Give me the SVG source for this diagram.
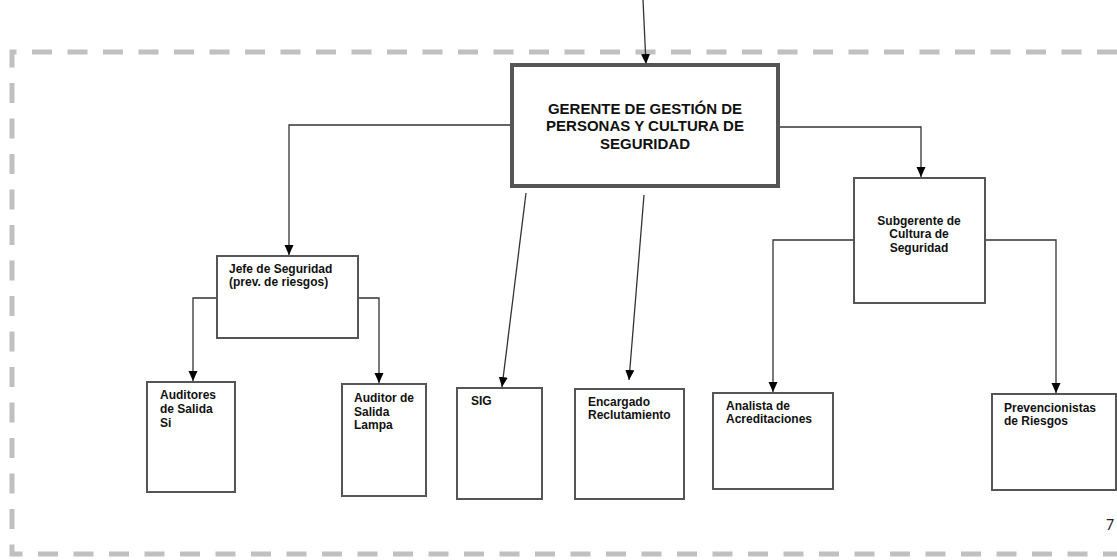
<svg xmlns="http://www.w3.org/2000/svg" width="1117" height="560" viewBox="0 0 1117 560">
<style>
.frame{fill:none;stroke:#c0c0c0;stroke-width:5;stroke-dasharray:20 15.5}
.box{fill:#fff;stroke:#555;stroke-width:2}
.main{fill:#fff;stroke:#555;stroke-width:4}
.c{fill:none;stroke:#333;stroke-width:1.3}
.t{font-family:"Liberation Sans",Arial,sans-serif;font-weight:bold;font-size:12px;fill:#111}
.tm{font-family:"Liberation Sans",Arial,sans-serif;font-weight:bold;font-size:15px;fill:#111}
.pg{font-family:"Carlito","Liberation Sans",sans-serif;font-size:16px;fill:#222}
</style>
<defs>
<marker id="ah" markerUnits="userSpaceOnUse" markerWidth="11" markerHeight="10" refX="10" refY="4.5" orient="auto">
<path d="M0,0 L10,4.5 L0,9 z" fill="#000"/>
</marker>
</defs>
<rect width="1117" height="560" fill="#fff"/>
<path class="frame" d="M1117,52 H12 V554 H1117"/>
<g id="connectors">
<path class="c" d="M643,0 L646,64" marker-end="url(#ah)"/>
<path class="c" d="M512,125 H289 V255" marker-end="url(#ah)"/>
<path class="c" d="M778,127 H921 V177" marker-end="url(#ah)"/>
<path class="c" d="M526,193 L502,387" marker-end="url(#ah)"/>
<path class="c" d="M644,195 L629,380" marker-end="url(#ah)"/>
<path class="c" d="M217,298 H193 V381" marker-end="url(#ah)"/>
<path class="c" d="M358,298 H379 V383" marker-end="url(#ah)"/>
<path class="c" d="M854,240 H773 V392" marker-end="url(#ah)"/>
<path class="c" d="M985,240 H1056 V393" marker-end="url(#ah)"/>
</g>
<g id="gerente">
<rect class="main" x="512" y="65" width="266" height="121"/>
<text class="tm" text-anchor="middle"><tspan x="645" y="114">GERENTE DE GESTIÓN DE</tspan><tspan x="645" y="131">PERSONAS Y CULTURA DE</tspan><tspan x="645" y="149">SEGURIDAD</tspan></text>
</g>
<g id="jefe">
<rect class="box" x="217" y="256" width="141" height="82"/>
<text class="t"><tspan x="229" y="273">Jefe de Seguridad</tspan><tspan x="229" y="286">(prev. de riesgos)</tspan></text>
</g>
<g id="subgerente">
<rect class="box" x="854" y="178" width="131" height="125"/>
<text class="t" text-anchor="middle"><tspan x="919" y="225">Subgerente de</tspan><tspan x="919" y="238">Cultura de</tspan><tspan x="919" y="252">Seguridad</tspan></text>
</g>
<g id="auditores">
<rect class="box" x="147" y="382" width="88" height="110"/>
<text class="t"><tspan x="160" y="399">Auditores</tspan><tspan x="160" y="413">de Salida</tspan><tspan x="160" y="427">Si</tspan></text>
</g>
<g id="auditor-lampa">
<rect class="box" x="342" y="384" width="84" height="112"/>
<text class="t"><tspan x="354" y="402">Auditor de</tspan><tspan x="354" y="416">Salida</tspan><tspan x="354" y="429">Lampa</tspan></text>
</g>
<g id="sig">
<rect class="box" x="457" y="388" width="85" height="111"/>
<text class="t" x="471" y="405">SIG</text>
</g>
<g id="encargado">
<rect class="box" x="575" y="389" width="109" height="110"/>
<text class="t"><tspan x="588" y="406">Encargado</tspan><tspan x="588" y="419">Reclutamiento</tspan></text>
</g>
<g id="analista">
<rect class="box" x="713" y="393" width="120" height="96"/>
<text class="t"><tspan x="726" y="410">Analista de</tspan><tspan x="726" y="423">Acreditaciones</tspan></text>
</g>
<g id="prevencionistas">
<rect class="box" x="992" y="394" width="124" height="96"/>
<text class="t"><tspan x="1004" y="412">Prevencionistas</tspan><tspan x="1004" y="425">de Riesgos</tspan></text>
</g>
<text class="pg" x="1106" y="530">7</text>
</svg>
